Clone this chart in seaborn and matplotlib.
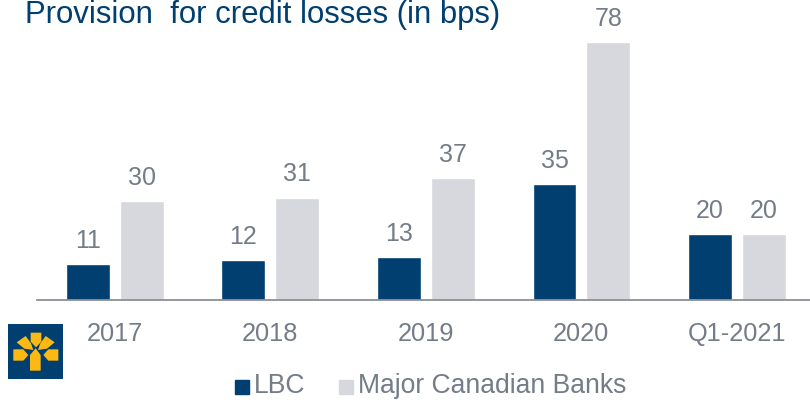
import numpy as np
import pandas as pd
import matplotlib
matplotlib.use('Agg')
import matplotlib.pyplot as plt
import seaborn as sns
from matplotlib.patches import Rectangle, Polygon

periods = ['2017', '2018', '2019', '2020', 'Q1-2021']
lbc = [11, 12, 13, 35, 20]
major_banks = [30, 31, 37, 78, 20]

df = pd.DataFrame({'period': periods * 2,
                   'bank': ['LBC'] * 5 + ['Major Canadian Banks'] * 5,
                   'value': lbc + major_banks})

navy = '#003F6F'
grey = '#D7D8DD'
text_grey = '#747C88'

sns.set_style('white')
plt.rcParams['font.family'] = ['Liberation Sans', 'DejaVu Sans']

fig = plt.figure(figsize=(8.1, 4.0), dpi=100)
ax = fig.add_axes([37 / 810, 1 - 300 / 400, (810 - 37) / 810, 300 / 400])

sns.barplot(data=df, x='period', y='value', hue='bank', palette=[navy, grey],
            width=0.692, gap=0.185, saturation=1, legend=False, ax=ax)

for container in ax.containers:
    ax.bar_label(container, padding=8, fontsize=18, color=text_grey)

ax.set_ylim(0, 300 / 3.305)
ax.set_xlim(-0.5, 4.47)
ax.set_xlabel('')
ax.set_ylabel('')
ax.set_yticks([])
ax.tick_params(axis='x', length=0, pad=16, labelsize=18.3, labelcolor=text_grey)
sns.despine(ax=ax, left=True)
ax.spines['bottom'].set_color('#8C8F94')
ax.spines['bottom'].set_linewidth(1.3)
ax.patch.set_alpha(0)

fig.text(25 / 810, 1 - 30 / 400, 'Provision  for credit losses (in bps)', fontsize=22.4,
         color=navy, va='bottom')

# legend
fig.patches.append(Rectangle((235 / 810, 1 - 394 / 400), 14 / 810, 14 / 400,
                             transform=fig.transFigure, color=navy))
fig.patches.append(Rectangle((339 / 810, 1 - 394 / 400), 14 / 810, 14 / 400,
                             transform=fig.transFigure, color=grey))
fig.text(254 / 810, 1 - 399 / 400, 'LBC', fontsize=19.1, color=text_grey, va='bottom')
fig.text(358 / 810, 1 - 399 / 400, 'Major Canadian Banks', fontsize=19.1, color=text_grey, va='bottom')

logo = fig.add_axes([8 / 810, 1 - 379 / 400, 55 / 810, 55 / 400])
logo.set_xlim(24, 189)
logo.set_ylim(237, 72)
logo.set_facecolor(navy)
logo.set_xticks([])
logo.set_yticks([])
for s in logo.spines.values():
    s.set_visible(False)
yellow = '#FDB913'
leaves = [
    [(107, 145), (122, 165), (122, 212), (90, 212), (90, 165)],
    [(92, 98), (124, 98), (124, 125), (108, 142), (92, 125)],
    [(50, 127), (77, 108), (93, 130), (100, 150), (73, 146)],
    [(164, 127), (137, 108), (121, 130), (114, 150), (141, 146)],
    [(40, 148), (70, 148), (85, 165), (70, 182), (40, 182)],
    [(175, 148), (145, 148), (130, 165), (145, 182), (175, 182)],
]
for pts in leaves:
    logo.add_patch(Polygon(pts, closed=True, color=yellow, lw=0))

fig.savefig('out.png', dpi=100)
